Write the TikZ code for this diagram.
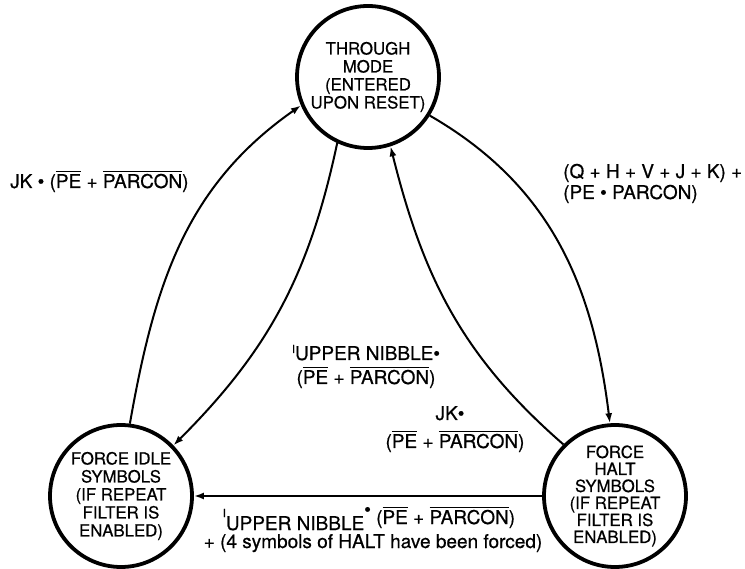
\documentclass[tikz,border=0pt]{standalone}
\usepackage{fontspec}
\setmainfont[FakeBold=0.6]{TeX Gyre Heros}
\usetikzlibrary{arrows.meta}
\newcommand{\ovl}[1]{\leavevmode\vbox{\hrule height 1.3pt\kern 2pt\hbox{#1}}}
\newcommand{\tick}{\raisebox{7pt}{\fontsize{11}{11}\selectfont I}}
\newcommand{\upbul}{\raisebox{8pt}{•}}
\begin{document}
\begin{tikzpicture}[x=1pt,y=1pt,
  state/.style={circle, draw, line width=3.8pt, minimum size=142pt, inner sep=0pt, align=center, font=\fontsize{16.8}{18}\selectfont},
  conn/.style={line width=2pt, -{Latex[length=10pt,width=7pt]}},
  lab/.style={inner sep=0pt, font=\fontsize{19}{20}\selectfont}
]
\useasboundingbox (0,0) rectangle (745,-569);
\node[state] (T) at (368,-77) {THROUGH\\MODE\\(ENTERED\\UPON RESET)};
\node[state] (L) at (121,-496) {FORCE IDLE\\SYMBOLS\\(IF REPEAT\\FILTER IS\\ENABLED)};
\node[state, font=\fontsize{16.8}{17}\selectfont] (R) at (615,-496) {FORCE\\HALT\\SYMBOLS\\(IF REPEAT\\FILTER IS\\ENABLED)};

\draw[conn] (L.83) to[out=80,in=215] (T.203);
\draw[conn] (T.-32) to[out=-30,in=97] (R.94);
\draw[conn] (T.245) to[out=-102,in=45] (L.44);
\draw[conn] (R.135) to[out=139,in=-76] (T.-72);
\draw[conn] (R) -- (L);

\node[lab, anchor=base west] (a1) at (10,-188) {JK • (\ovl{PE} + \ovl{PARCON})};
\node[lab, anchor=base west] (b1) at (563,-178) {(Q + H + V + J + K) +};
\node[lab, anchor=base west] (b2) at (563,-199) {(PE • PARCON)};
\node[lab, anchor=base] (m1) at (366,-360) {\tick UPPER NIBBLE•};
\node[lab, anchor=base] (m2) at (366,-384) {(\ovl{PE} + \ovl{PARCON})};
\node[lab, anchor=base] (j1) at (450,-420) {JK•};
\node[lab, anchor=base] (j2) at (455,-448) {(\ovl{PE} + \ovl{PARCON})};
\node[lab, anchor=base] (c1) at (369,-524) {\tick\raisebox{-6pt}{UPPER NIBBLE}\upbul\ (\ovl{PE} + \ovl{PARCON})};
\node[lab, anchor=base] (c2) at (373,-548) {+ (4 symbols of HALT have been forced)};
\end{tikzpicture}
\end{document}
